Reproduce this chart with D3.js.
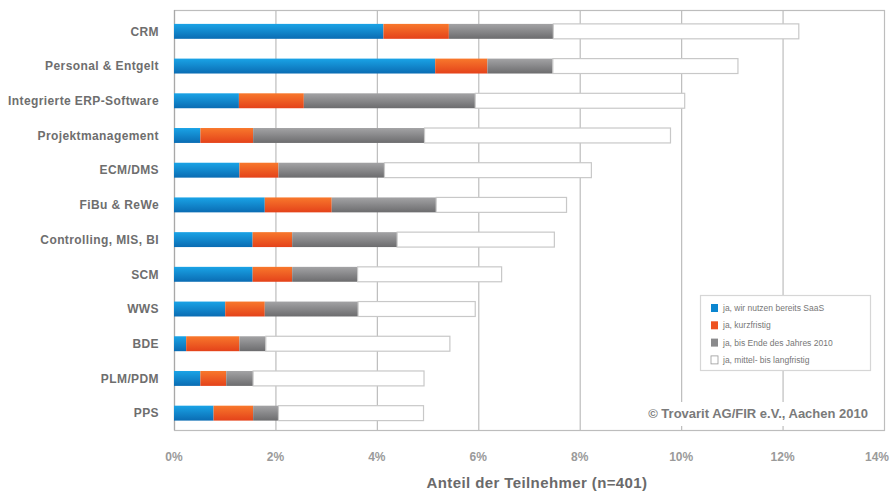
<!DOCTYPE html>
<html><head><meta charset="utf-8">
<script src="https://cdn.jsdelivr.net/npm/d3@7"></script>
<style>
html,body{margin:0;padding:0;background:#fff;}
svg{display:block;font-family:"Liberation Sans",Arial,sans-serif;}
</style></head>
<body>
<svg id="chart" width="890" height="492"></svg>
<script>
const categories = ["CRM","Personal & Entgelt","Integrierte ERP-Software","Projektmanagement","ECM/DMS","FiBu & ReWe","Controlling, MIS, BI","SCM","WWS","BDE","PLM/PDM","PPS"];
const seriesNames = ["ja, wir nutzen bereits SaaS","ja, kurzfristig","ja, bis Ende des Jahres 2010","ja, mittel- bis langfristig"];
const saasNow   = [4.13,5.15,1.28,0.52,1.29,1.79,1.55,1.55,1.01,0.24,0.52,0.78];
const shortTerm = [1.29,1.03,1.28,1.04,0.77,1.32,0.78,0.78,0.78,1.05,0.51,0.78];
const by2010    = [2.06,1.29,3.38,3.38,2.09,2.06,2.07,1.29,1.84,0.52,0.53,0.50];
const longTerm  = [4.84,3.65,4.13,4.85,4.08,2.57,3.10,2.84,2.31,3.63,3.37,2.86];
const xTicks = [0,2,4,6,8,10,12,14];
const axisTitle = "Anteil der Teilnehmer (n=401)";
const copyright = "© Trovarit AG/FIR e.V., Aachen 2010";

const svg = d3.select("#chart");
const pL = 174, pR = 884, pT = 10, pB = 430;
const x = d3.scaleLinear().domain([0,14]).range([pL,pR]);
const y = d3.scaleBand().domain(categories).range([14,430.5]).paddingInner(0.57).paddingOuter(0.285);

// gradients
const defs = svg.append("defs");
const grads = [
  {id:"g0", c1:"#1aa3e6", c2:"#0a6cb3"},
  {id:"g1", c1:"#f8782c", c2:"#e4421a"},
  {id:"g2", c1:"#a3a3a5", c2:"#6c6c6e"},
];
grads.forEach(g=>{
  const lgr = defs.append("linearGradient").attr("id",g.id).attr("x1",0).attr("y1",0).attr("x2",0).attr("y2",1);
  lgr.append("stop").attr("offset","0%").attr("stop-color",g.c1);
  lgr.append("stop").attr("offset","100%").attr("stop-color",g.c2);
});
const fills = ["url(#g0)","url(#g1)","url(#g2)","#ffffff"];

// gridlines
svg.append("g").selectAll("line").data(xTicks.slice(1,-1)).join("line")
  .attr("x1",d=>x(d)+0.5).attr("x2",d=>x(d)+0.5)
  .attr("y1",pT).attr("y2",pB)
  .attr("stroke","#bdbdbd").attr("stroke-width",1.2);

// frame
svg.append("rect").attr("x",pL+0.5).attr("y",pT+0.5).attr("width",pR-pL).attr("height",pB-pT)
  .attr("fill","none").attr("stroke","#bdbdbd").attr("stroke-width",1.2);
svg.append("line").attr("x1",pL+0.5).attr("x2",pL+0.5).attr("y1",pT).attr("y2",pB)
  .attr("stroke","#a8a8a8").attr("stroke-width",1.2);

// stacked bars
const table = categories.map((c,i)=>({cat:c, s0:saasNow[i], s1:shortTerm[i], s2:by2010[i], s3:longTerm[i]}));
const stacked = d3.stack().keys(["s0","s1","s2","s3"])(table);
const bh = y.bandwidth();
stacked.forEach((layer,li)=>{
  svg.append("g").selectAll("rect").data(layer).join("rect")
    .attr("x",d=>x(d[0]))
    .attr("y",d=>y(d.data.cat))
    .attr("width",d=>x(d[1])-x(d[0]))
    .attr("height",bh)
    .attr("fill",fills[li])
    .attr("stroke", li===3 ? "#c8c8c8" : "none")
    .attr("stroke-width",1.2);
});

// category labels
svg.append("g").selectAll("text").data(categories).join("text")
  .attr("x",159).attr("y",d=>y(d)+bh/2)
  .attr("dy","0.35em").attr("text-anchor","end")
  .attr("font-size",12).attr("font-weight","bold").attr("fill","#6e6e6e")
  .attr("letter-spacing",0.4)
  .text(d=>d);

// x tick labels
svg.append("g").selectAll("text").data(xTicks).join("text")
  .attr("x",d=> d===14 ? 889 : x(d)).attr("y",461)
  .attr("text-anchor",d=> d===14 ? "end" : "middle")
  .attr("font-size",12).attr("font-weight","bold").attr("fill","#9a9a9a")
  .text(d=>d+"%");

// axis title
svg.append("text").attr("x",537).attr("y",488).attr("text-anchor","middle")
  .attr("font-size",15).attr("font-weight","bold").attr("fill","#6a6a6a")
  .attr("letter-spacing",0.4)
  .text(axisTitle);

// copyright
svg.append("rect").attr("x",640).attr("y",402).attr("width",236).attr("height",24).attr("fill","#fff");
svg.append("text").attr("x",868).attr("y",418).attr("text-anchor","end")
  .attr("font-size",13).attr("font-weight","bold").attr("fill","#7a7a7a")
  .text(copyright);

// legend
const lg = svg.append("g");
lg.append("rect").attr("x",700.5).attr("y",295.5).attr("width",170).attr("height",75)
  .attr("fill","#fff").attr("stroke","#d6d6d6").attr("stroke-width",1.2);
const legColors = ["#0b86d0","#ee5220","#8a8a8c","#ffffff"];
seriesNames.forEach((n,i)=>{
  const yy = 308 + i*17.3;
  lg.append("rect").attr("x",711).attr("y",yy-4).attr("width",7).attr("height",8)
    .attr("fill",legColors[i]).attr("stroke", i===3?"#999":"none").attr("stroke-width",0.8);
  lg.append("text").attr("x",723).attr("y",yy).attr("dy","0.35em")
    .attr("font-size",8.5).attr("fill","#777").text(n);
});
</script>
</body></html>
